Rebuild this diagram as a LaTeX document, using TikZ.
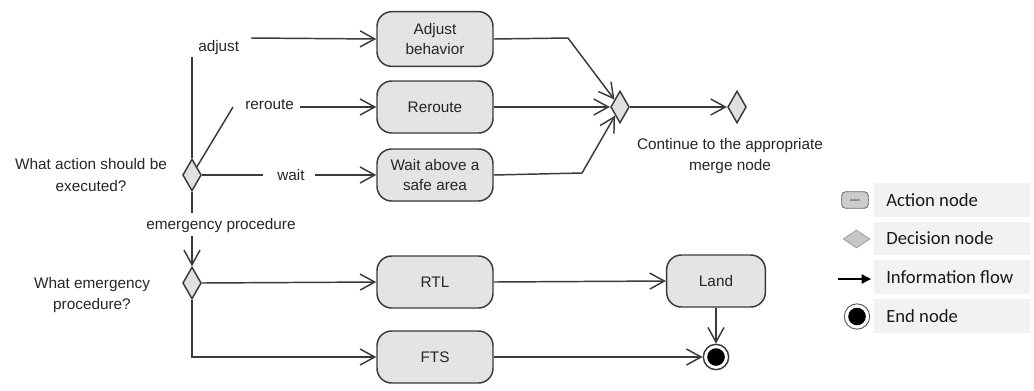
\documentclass[tikz,border=0pt]{standalone}
\usepackage{fontspec}
\setmainfont{Liberation Sans}
\newfontfamily\legendfont{Carlito}
\usetikzlibrary{arrows.meta,shapes.geometric}
\definecolor{edgec}{HTML}{3A3A3A}
\definecolor{actfill}{HTML}{E4E4E4}
\definecolor{decfill}{HTML}{E0E0E0}
\definecolor{txt}{HTML}{262626}
\definecolor{legbg}{HTML}{F2F2F2}
\begin{document}
\begin{tikzpicture}[x=0.75pt,y=-0.75pt,
  ln/.style={draw=edgec, line width=1.1pt},
  flow/.style={ln, -{Straight Barb[length=11pt,width=12pt,line width=1.1pt]}},
  action/.style={draw=edgec, line width=1.1pt, fill=actfill, rounded corners=11pt,
    minimum width=87pt, minimum height=39pt, align=center, text=txt,
    font=\fontsize{11.5}{15.5}\selectfont},
  decision/.style={diamond, draw=edgec, line width=1.1pt, fill=decfill,
    minimum width=14pt, minimum height=24pt, inner sep=0pt},
  lbl/.style={text=txt, inner sep=0pt, font=\fontsize{11.5}{15.8}\selectfont},
  legbox/.style={fill=legbg, draw=none, minimum width=117pt, minimum height=25pt, inner sep=0pt},
  legtext/.style={anchor=west, inner sep=0pt, font=\legendfont\fontsize{14}{16}\selectfont, text=black!90},
]
\useasboundingbox (0,0) rectangle (1034,390);

% decision nodes
\node[decision] (d1) at (192,175) {};
\node[decision] (d2) at (192,283) {};
\node[decision] (m1) at (620,107) {};
\node[decision] (m2) at (737,107) {};

% action nodes
\node[action, minimum height=41pt] (adjust) at (435,39) {Adjust\\behavior};
\node[action] (reroute) at (435,107) {Reroute};
\node[action] (wait) at (435,175) {Wait above a\\safe area};
\node[action] (rtl) at (435,282) {RTL};
\node[action] (fts) at (435,357) {FTS};
\node[action, minimum width=74pt] (land) at (716,281) {Land};

% end node
\node[circle, draw=edgec, line width=1.1pt, fill=white, minimum size=19pt, inner sep=0pt] (endn) at (716,357) {};
\fill[black] (endn.center) circle (6.6pt);

% question labels
\node[lbl, align=center] (q1) at (91,175) {What action should be\\executed?};
\node[lbl, align=center] (q2) at (92,295) {What emergency\\procedure?};
\node[lbl, align=center] (cont) at (730,156) {Continue to the appropriate\\merge node};

% guard labels
\node[lbl, anchor=west] (gadj) at (198,48) {adjust};
\node[lbl, anchor=west] (grer) at (245,105) {reroute};
\node[lbl, anchor=west] (gwait) at (277,175) {wait};
\node[lbl] (gemg) at (221,226) {emergency procedure};

\coordinate (a1) at (192,57);
\coordinate (a2) at (251,38);
\coordinate (r1) at (233,107);
\coordinate (r2) at (300,107);
\coordinate (w1) at (263,175);
\coordinate (w2) at (315,175);
\coordinate (e1) at (192,213);
\coordinate (e2) at (192,236);
\coordinate (k1) at (568,38);
\coordinate (k2) at (582,173);

% connectors
\draw[ln] (d1.north) -- (a1);
\draw[flow] (a2) -- (adjust.west);
\draw[ln] (d1.north east) -- (r1);
\draw[flow] (r2) -- (reroute.west);
\draw[ln] (d1.east) -- (w1);
\draw[flow] (w2) -- (wait.west);
\draw[ln] (d1.south) -- (e1);
\draw[flow] (e2) -- (d2.north);
\draw[flow] (d2.east) -- (rtl.west);
\draw[flow] (d2.south) |- (fts.west);
\draw[flow] (adjust.east) -- (k1) -- (m1);
\draw[flow] (reroute.east) -- (m1.west);
\draw[flow] (wait.east) -- (k2) -- (m1);
\draw[flow] (m1.east) -- (m2.west);
\draw[flow] (rtl.east) -- (land.west);
\draw[flow] (land.south) -- (endn.north);
\draw[flow] (fts.east) -- (endn.west);

% legend
\node[legbox] (lb1) at (951.5,200) {};
\node[legbox] (lb2) at (951.5,238.5) {};
\node[legbox] (lb3) at (951.5,277) {};
\node[legbox] (lb4) at (951.5,316) {};
\node[legtext] (lt1) at (886,200) {Action node};
\node[legtext] (lt2) at (886,238.5) {Decision node};
\node[legtext] (lt3) at (886,277) {Information flow};
\node[legtext] (lt4) at (886,316) {End node};

\node[draw=gray!80!black, line width=0.6pt, fill=gray!40, rounded corners=3pt,
  minimum width=20pt, minimum height=12.5pt, inner sep=0pt,
  font=\fontsize{2.5}{3}\selectfont] (li1) at (855,200) {Action};
\node[diamond, draw=gray!75, line width=0.6pt, fill=gray!45, minimum width=20pt,
  minimum height=13.5pt, inner sep=0pt] (li2) at (856.5,239) {};
\coordinate (la1) at (838,279);
\coordinate (la2) at (871,279);
\draw[black, line width=0.9pt, -{Triangle[length=7pt,width=7pt]}] (la1) -- (la2);
\node[circle, draw=gray!70!black, line width=0.7pt, fill=white, minimum size=19pt, inner sep=0pt] (li4) at (857,316.5) {};
\fill[black] (li4.center) circle (6.6pt);
\end{tikzpicture}
\end{document}
